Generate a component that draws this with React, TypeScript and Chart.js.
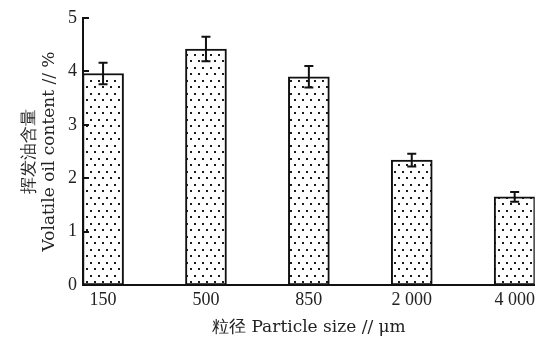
import React, { useEffect, useRef } from "react";
import { Chart, registerables } from "chart.js";

Chart.register(...registerables);

const categories = ["150", "500", "850", "2 000", "4 000"];
const values = [3.96, 4.42, 3.9, 2.34, 1.65];
const errors = [0.2, 0.23, 0.2, 0.12, 0.09];
const yTicks = [0, 1, 2, 3, 4, 5];
const yTitle = ["挥发油含量", "Volatile oil content // %"];
const xTitle = "粒径 Particle size // μm";

function makePattern(): CanvasPattern | string {
  const c = document.createElement("canvas");
  c.width = 8;
  c.height = 13;
  const g = c.getContext("2d");
  if (!g) return "#fff";
  g.fillStyle = "#ffffff";
  g.fillRect(0, 0, 8, 13);
  g.fillStyle = "#1a1a1a";
  g.fillRect(2, 2, 2, 2);
  g.fillRect(6, 8, 2, 2);
  const p = g.createPattern(c, "repeat");
  return p || "#fff";
}

export default function App() {
  const ref = useRef<HTMLCanvasElement | null>(null);

  useEffect(() => {
    document.body.style.margin = "0";
    const canvas = ref.current;
    if (!canvas) return;

    const errorBars = {
      id: "errorBars",
      afterDatasetsDraw(chart: any) {
        const ctx = chart.ctx;
        const xs = chart.scales.x;
        const ys = chart.scales.y;
        ctx.save();
        ctx.strokeStyle = "#111";
        ctx.lineWidth = 2;
        values.forEach((v, i) => {
          const x = xs.getPixelForValue(i);
          const t = ys.getPixelForValue(v + errors[i]);
          const b = ys.getPixelForValue(v - errors[i]);
          ctx.beginPath();
          ctx.moveTo(x, t);
          ctx.lineTo(x, b);
          ctx.moveTo(x - 4.5, t);
          ctx.lineTo(x + 4.5, t);
          ctx.moveTo(x - 4.5, b);
          ctx.lineTo(x + 4.5, b);
          ctx.stroke();
        });
        ctx.restore();
      },
      afterDraw(chart: any) {
        const ctx = chart.ctx;
        const ys = chart.scales.y;
        const left = chart.chartArea.left;
        ctx.save();
        ctx.strokeStyle = "#111";
        ctx.lineWidth = 2;
        yTicks.forEach((t) => {
          const y = Math.round(ys.getPixelForValue(t));
          ctx.beginPath();
          ctx.moveTo(left, y);
          ctx.lineTo(left + 6, y);
          ctx.stroke();
        });
        ctx.restore();
      },
    };

    const chart = new Chart(canvas, {
      type: "bar",
      data: {
        datasets: [
          {
            data: values.map((v, i) => ({ x: i, y: v })),
            backgroundColor: makePattern() as any,
            borderColor: "#111",
            borderWidth: 2,
            borderSkipped: false,
            barThickness: 41,
          },
        ],
      },
      options: {
        animation: false,
        responsive: false,
        layout: { padding: { top: 18, right: 2, left: 0, bottom: 0 } },
        plugins: { legend: { display: false }, tooltip: { enabled: false } },
        scales: {
          x: {
            type: "linear",
            offset: false,
            min: -0.195,
            max: 4.195,
            afterBuildTicks(scale: any) {
              scale.ticks = categories.map((_, i) => ({ value: i }));
            },
            afterFit(scale: any) {
              scale.height = 59;
            },
            grid: { display: false, drawTicks: false },
            border: { display: true, color: "#111", width: 2 },
            ticks: {
              color: "#222",
              padding: 4,
              autoSkip: false,
              maxRotation: 0,
              font: { family: "Liberation Serif", size: 18 },
              callback: (v: any) => categories[Math.round(Number(v))] ?? "",
            },
            title: {
              display: true,
              text: xTitle,
              color: "#222",
              padding: { top: 0, bottom: 6 },
              font: { family: "DejaVu Serif", size: 17, lineHeight: 1.2 },
            },
          },
          y: {
            min: 0,
            max: 5,
            afterBuildTicks(scale: any) {
              scale.ticks = yTicks.map((v) => ({ value: v }));
            },
            afterFit(scale: any) {
              scale.width = 83;
            },
            grid: { display: false, drawTicks: false },
            border: { display: true, color: "#111", width: 2 },
            ticks: {
              color: "#222",
              padding: 6,
              font: { family: "Liberation Serif", size: 18 },
            },
            title: {
              display: true,
              text: yTitle,
              color: "#222",
              padding: { top: 20, bottom: 0 },
              font: { family: "DejaVu Serif", size: 17, lineHeight: 1.15 },
            },
          },
        },
      },
      plugins: [errorBars],
    });

    return () => chart.destroy();
  }, []);

  return (
    <div style={{ width: 539, height: 344 }}>
      <canvas ref={ref} width={539} height={344} style={{ display: "block" }} />
    </div>
  );
}
